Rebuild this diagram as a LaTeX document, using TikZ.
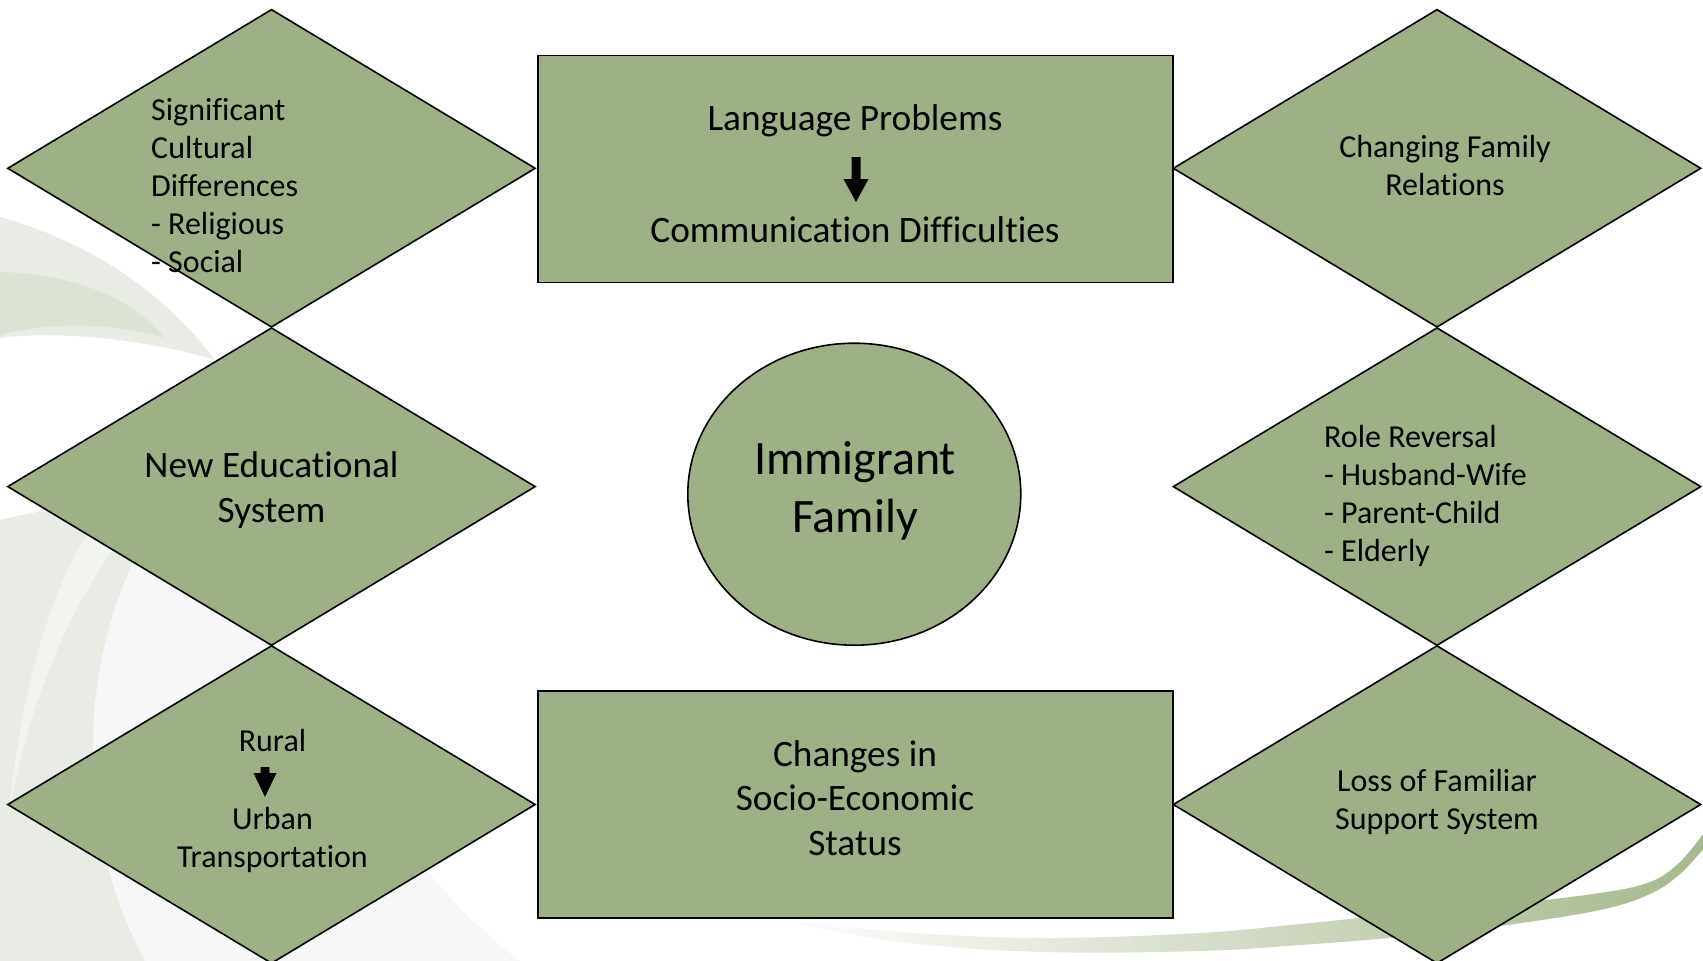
\documentclass[tikz,border=0pt]{standalone}
\usepackage{fontspec}
\setmainfont{Carlito}[Ligatures={TeX,NoCommon}]
\usetikzlibrary{shapes.geometric}
\definecolor{boxgreen}{RGB}{157,176,134}
\definecolor{bgA}{RGB}{233,236,228}
\definecolor{bgB}{RGB}{220,227,213}
\definecolor{bgC}{RGB}{247,247,247}
\definecolor{bgD}{RGB}{242,244,239}
\definecolor{swooshmid}{RGB}{180,196,160}
\definecolor{swoosh}{RGB}{165,184,140}
\begin{document}
\begin{tikzpicture}[x=1pt,y=-1pt,
  dia/.style={diamond, draw=black, fill=boxgreen, line width=1.6pt,
    minimum width=528pt, minimum height=318pt, inner sep=0pt},
  box/.style={rectangle, draw=black, fill=boxgreen, line width=1.6pt,
    minimum width=635pt, minimum height=227pt, inner sep=0pt},
  oval/.style={ellipse, draw=black, fill=boxgreen, line width=1.6pt,
    minimum width=333pt, minimum height=302pt, inner sep=0pt},
  txs/.style={inner sep=0pt, font=\fontsize{32}{38}\selectfont},
  txm/.style={inner sep=0pt, font=\fontsize{37.3}{44.5}\selectfont},
  txl/.style={inner sep=0pt, font=\fontsize{48}{58.6}\selectfont},
  blockarrow/.style={fill=black, draw=none}]
\useasboundingbox (0,0) rectangle (1703,961);
\fill[white] (0,0) rectangle (1703,961);

% background swooshes
\fill[bgA] (0,217) .. controls (100,245) and (170,300) .. (215,360)
  .. controls (150,340) and (60,330) .. (0,338) -- cycle;
\fill[bgB] (0,272) .. controls (70,274) and (130,295) .. (165,338)
  .. controls (110,322) and (50,322) .. (0,335) -- cycle;
\fill[bgA] (0,520) .. controls (60,505) and (120,500) .. (170,505) -- (150,530)
  .. controls (80,650) and (70,820) .. (145,961) -- (0,961) -- cycle;
\fill[bgD] (90,530) .. controls (45,600) and (20,700) .. (8,820)
  .. controls (25,720) and (60,620) .. (120,540) -- cycle;
\fill[bgC] (150,530) -- (230,560) .. controls (320,720) and (400,870) .. (520,961)
  -- (145,961) .. controls (70,820) and (80,650) .. (150,530) -- cycle;
\shade[left color=white, middle color=swooshmid, right color=swoosh]
  plot[smooth, tension=0.6] coordinates {(770,917) (900,932) (1044,938) (1200,933)
    (1300,924) (1400,914) (1500,905) (1600,893) (1650,882) (1680,862) (1706,830)}
  -- plot[smooth, tension=0.6] coordinates {(1706,846) (1680,874) (1650,894)
    (1600,910) (1500,926) (1400,937) (1300,945) (1200,951) (1044,952) (900,942) (770,919)}
  -- cycle;

% shapes
\node[dia] (dtl) at (271.5,168.3) {};
\node[dia] (dml) at (271.5,486.6) {};
\node[dia] (dbl) at (271.5,804.5) {};
\node[dia] (dtr) at (1437,168.3) {};
\node[dia] (dmr) at (1437,486.6) {};
\node[dia] (dbr) at (1437,804.5) {};
\node[box] (btop) at (855.3,168.9) {};
\node[box] (bbot) at (855.3,804.3) {};
\node[oval] (fam) at (854.3,494.2) {};

% texts
\node[txs, align=left, anchor=west] (ttl) at (151,186)
  {Significant\\Cultural\\Differences\\- Religious\\- Social};
\node[txm, anchor=base] (lang) at (855,130) {Language Problems};
\node[txm, anchor=base] (comm) at (855,242) {Communication Difficulties};
\node[txs, align=center] (ttr) at (1445,166) {Changing Family\\Relations};
\node[txm, align=center] (tml) at (271.5,490) {New Educational\\System};
\node[txl, align=center] (tfam) at (855,491) {Immigrant\\Family};
\node[txs, align=left, anchor=west] (tmr) at (1324,495.5)
  {Role Reversal\\- Husband-Wife\\- Parent-Child\\- Elderly};
\node[txs, anchor=base] (rural) at (272.5,751.6) {Rural};
\node[txs, align=center] (urban) at (272.5,839.7) {Urban\\Transportation};
\node[txm, align=center] (tbb) at (855,798) {Changes in\\Socio-Economic\\Status};
\node[txs, align=center] (tbr) at (1437,801.5) {Loss of Familiar\\Support System};

% block arrows
\coordinate (a1) at (856,157);
\fill[blockarrow] (851.5,157) -- (851.5,179) -- (843.5,179) -- (856,202)
  -- (868.5,179) -- (860.5,179) -- (860.5,157) -- cycle;
\coordinate (a2) at (265,767);
\fill[blockarrow] (260.7,767) -- (260.7,773) -- (253.5,773) -- (265,797)
  -- (276.5,773) -- (269.3,773) -- (269.3,767) -- cycle;
\end{tikzpicture}
\end{document}
